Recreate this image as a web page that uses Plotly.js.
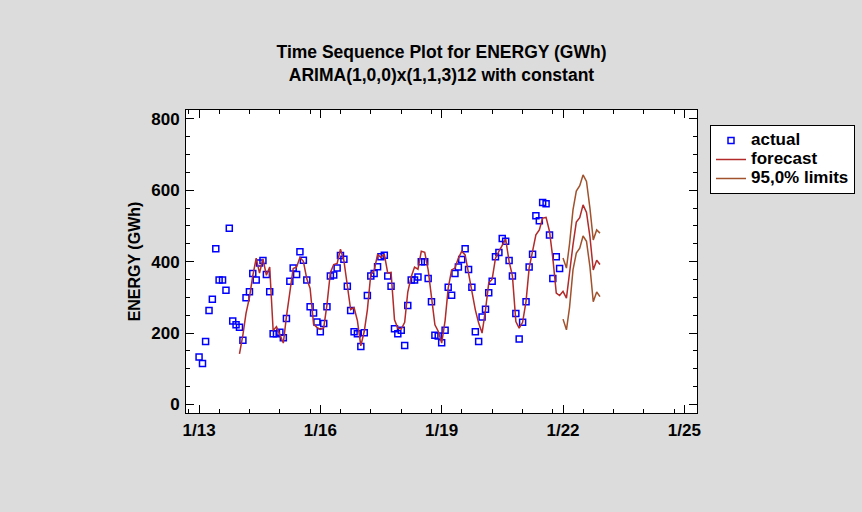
<!DOCTYPE html>
<html>
<head>
<meta charset="utf-8">
<script src="https://cdn.plot.ly/plotly-3.0.1.min.js"></script>
<style>
  html, body { margin: 0; padding: 0; background: #dcdcdc; }
  #chart { width: 862px; height: 512px; }
</style>
</head>
<body>
<div id="chart"></div>
<script>
// Monthly series, Jan 2013 .. Dec 2021 (actual)
const startYear = 2013;
const actual = [
  133, 115, 176, 263, 295, 436, 349, 349, 320, 494, 234, 223,
  216, 180, 299, 316, 367, 349, 396, 403, 364, 316, 198, 198,
  202, 187, 241, 345, 382, 364, 428, 404, 349, 274, 256, 231,
  204, 227, 274, 360, 363, 382, 417, 407, 331, 263, 204, 198,
  162, 201, 305, 360, 367, 386, 414, 418, 360, 331, 212, 198,
  208, 165, 277, 349, 349, 357, 400, 400, 353, 288, 194, 192,
  173, 208, 328, 306, 367, 385, 406, 436, 378, 328, 204, 176,
  245, 267, 313, 345, 414, 426, 465, 457, 403, 360, 255, 183,
  230, 288, 385, 421, 529, 515, 566, 562, 475, 353, 414, 381
];
// One-step-ahead forecasts, Jan 2014 .. Dec 2022
const forecastStart = 12;
const forecast = [
  142, 195, 255, 300, 360, 410, 368, 408, 362, 385, 207, 218,
  195, 172, 246, 318, 381, 385, 412, 401, 352, 325, 225, 216,
  210, 215, 279, 370, 392, 395, 435, 403, 340, 266, 271, 235,
  164, 205, 265, 365, 375, 420, 412, 421, 368, 370, 237, 214,
  211, 230, 315, 358, 385, 379, 429, 426, 377, 302, 223, 205,
  172, 235, 326, 377, 382, 410, 429, 419, 368, 312, 265, 228,
  200, 265, 340, 351, 410, 429, 447, 463, 401, 360, 232, 214,
  230, 289, 382, 433, 475, 489, 522, 524, 485, 410, 312, 305,
  317, 298, 372, 447, 511, 523, 559, 538, 470, 377, 404, 392
];
// 95% limits, Jan 2022 .. Dec 2022
const limitsStart = 108;
const upperLimit = [410, 382, 450, 545, 598, 613, 643, 625, 550, 461, 489, 480];
const lowerLimit = [239, 209, 272, 377, 424, 438, 472, 457, 386, 288, 315, 302];
const legendNames = ['actual', 'forecast', '95,0% limits'];

function monthDate(i) {
  const y = startYear + Math.floor(i / 12);
  const m = (i % 12) + 1;
  return y + '-' + (m < 10 ? '0' + m : m) + '-01';
}
const xActual = actual.map((_, i) => monthDate(i));
const xForecast = forecast.map((_, i) => monthDate(forecastStart + i));
const xLimits = upperLimit.map((_, i) => monthDate(limitsStart + i));

const FONT = 'Arial, "Liberation Sans", sans-serif';
const RED = '#b22a2a';
const BROWN = '#a0522d';
const legName = s => '<span style="font-size:17px">' + s + '</span>';

const traces = [
  {
    x: xActual, y: actual, type: 'scatter', mode: 'markers', name: legName(legendNames[0]),
    marker: { symbol: 'square-open', size: 6, color: '#0000ff', line: { width: 1.5, color: '#0000ff' } }
  },
  {
    x: xForecast, y: forecast, type: 'scatter', mode: 'lines', name: legName(legendNames[1]),
    line: { color: RED, width: 1.5 }
  },
  {
    x: xLimits, y: upperLimit, type: 'scatter', mode: 'lines', name: legName(legendNames[2]),
    line: { color: BROWN, width: 1.5 }, legendgroup: 'lim'
  },
  {
    x: xLimits, y: lowerLimit, type: 'scatter', mode: 'lines', name: legName(legendNames[2]),
    line: { color: BROWN, width: 1.5 }, legendgroup: 'lim', showlegend: false
  }
];

const layout = {
  width: 862, height: 512,
  paper_bgcolor: '#dcdcdc', plot_bgcolor: '#ffffff',
  margin: { l: 186, r: 165, t: 110, b: 99, pad: 0, autoexpand: false },
  font: { family: FONT, color: '#000000', size: 14, weight: 'bold' },
  title: {
    text: 'Time Sequence Plot for ENERGY (GWh)<br>ARIMA(1,0,0)x(1,1,3)12 with constant',
    font: { family: FONT, size: 17.5, color: '#000000', weight: 'bold' },
    x: 0.5, xref: 'paper', xanchor: 'center',
    y: 1 - 58 / 512, yref: 'container', yanchor: 'top'
  },
  xaxis: {
    type: 'date',
    range: ['2012-09-05', '2025-04-25'],
    tick0: '2013-01-01', dtick: 'M36', tickformat: '%-m/%y',
    ticks: 'inside', ticklen: 8, tickwidth: 1, tickcolor: '#000',
    minor: { dtick: 'M9', ticks: 'inside', ticklen: 4, tickwidth: 1, tickcolor: '#000' },
    showline: true, linecolor: '#000', linewidth: 1, mirror: 'allticks',
    showgrid: false, zeroline: false,
    ticklabelstandoff: 2,
    tickfont: { family: FONT, size: 17, color: '#000', weight: 'bold' }
  },
  yaxis: {
    range: [-24, 825],
    tick0: 0, dtick: 200,
    ticks: 'inside', ticklen: 8, tickwidth: 1, tickcolor: '#000',
    minor: { dtick: 50, ticks: 'inside', ticklen: 4, tickwidth: 1, tickcolor: '#000' },
    showline: true, linecolor: '#000', linewidth: 1, mirror: 'allticks',
    showgrid: false, zeroline: false,
    ticklabelstandoff: 2,
    tickfont: { family: FONT, size: 17, color: '#000', weight: 'bold' },
    title: { text: 'ENERGY (GWh)', font: { family: FONT, size: 16, color: '#000', weight: 'bold' }, standoff: 6 }
  },
  showlegend: true,
  legend: {
    x: (710 - 186) / 511, y: (413 - 125) / 303, xanchor: 'left', yanchor: 'top',
    bgcolor: '#ffffff', bordercolor: '#000000', borderwidth: 1,
    font: { family: FONT, size: 11.5, color: '#000', weight: 'bold' },
    tracegroupgap: 0
  }
};

Plotly.newPlot('chart', traces, layout, { displayModeBar: false, staticPlot: true });
</script>
</body>
</html>
